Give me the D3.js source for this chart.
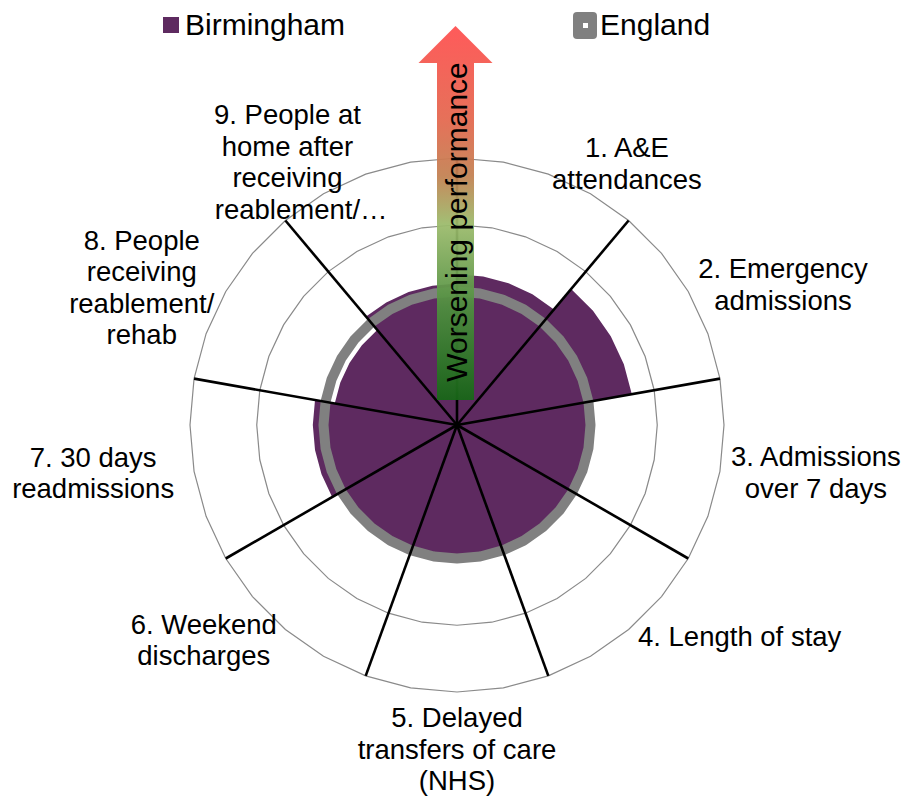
<!DOCTYPE html>
<html>
<head>
<meta charset="utf-8">
<script src="https://cdn.jsdelivr.net/npm/d3@7"></script>
<style>
body { margin: 0; background: #fff; }
svg { display: block; font-family: "Liberation Sans", Arial, sans-serif; }
</style>
</head>
<body>
<script>
// categories (one entry per sector, already wrapped the way the chart shows them)
var categories = [
  ["1. A&E", "attendances"],
  ["2. Emergency", "admissions"],
  ["3. Admissions", "over 7 days"],
  ["4. Length of stay"],
  ["5. Delayed", "transfers of care", "(NHS)"],
  ["6. Weekend", "discharges"],
  ["7. 30 days", "readmissions"],
  ["8. People", "receiving", "reablement/", "rehab"],
  ["9. People at", "home after", "receiving", "reablement/\u2026"]
];
// ratio to England average, per sector
var birmingham = [1.13, 1.33, 0.99, 0.98, 0.98, 0.99, 1.08, 0.93, 1.06];
var england = [1, 1, 1, 1, 1, 1, 1, 1, 1];
var gridTicks = [0.5, 1, 1.5, 2];
var seriesNames = ["Birmingham", "England"];
var arrowLabel = "Worsening performance";

var W = 908, H = 798;
var cx = 457, cy = 425, R = 267;
var perSector = 4; // radar points per sector (36 round the dial)
var fs = 27.5, lh = 31.5;

// label placement round the dial: [angle in degrees, distance from centre]
var labelLayout = [[33, 312], [66.7, 355], [97.5, 362], [126.8, 353], [180, 324],
                   [229.7, 332], [262.5, 367], [293.6, 344], [327.2, 313]];

var svg = d3.select("body").append("svg")
  .attr("width", W)
  .attr("height", H);

var r = d3.scaleLinear().domain([0, 2]).range([0, R]);
var ang = d3.scaleLinear().domain([0, categories.length]).range([0, 2 * Math.PI]);

// closed ring, one vertex every 1/perSector of a sector; if edges is set each
// sector also gets its closing vertex so the value steps on the spoke
function ring(values, edges) {
  var pts = [];
  values.forEach(function(v, i) {
    var n = edges ? perSector : perSector - 1;
    for (var j = 0; j <= n; j++) pts.push([ang(i + j / perSector), r(v)]);
  });
  return pts;
}

var radial = d3.lineRadial()
  .angle(function(d) { return d[0]; })
  .radius(function(d) { return d[1]; })
  .curve(d3.curveLinearClosed);

var g = svg.append("g").attr("transform", "translate(" + cx + "," + cy + ")");

// grid
g.selectAll("path.grid")
  .data(gridTicks)
  .enter().append("path")
  .attr("class", "grid")
  .attr("d", function(t) { return radial(ring(categories.map(function() { return t; }))); })
  .attr("fill", "none")
  .attr("stroke", "#8a8a8a")
  .attr("stroke-width", 1.2);

// Birmingham filled area
g.append("path")
  .attr("d", radial(ring(birmingham, true)))
  .attr("fill", "#5e2a60");

// England line
g.append("path")
  .attr("d", radial(ring(england)))
  .attr("fill", "none")
  .attr("stroke", "#808080")
  .attr("stroke-width", 10)
  .attr("stroke-linejoin", "round");

// spokes
g.selectAll("line.spoke")
  .data(d3.range(categories.length))
  .enter().append("line")
  .attr("class", "spoke")
  .attr("x1", 0).attr("y1", 0)
  .attr("x2", function(i) { return Math.sin(ang(i)) * r(2); })
  .attr("y2", function(i) { return -Math.cos(ang(i)) * r(2); })
  .attr("stroke", "#000")
  .attr("stroke-width", 2.6);

// arrow
var defs = svg.append("defs");
var grad = defs.append("linearGradient")
  .attr("id", "arrowGrad")
  .attr("gradientUnits", "userSpaceOnUse")
  .attr("x1", 0).attr("x2", 0).attr("y1", 26).attr("y2", 400);
[[0, "#ff5050"], [0.25, "#e4684f"], [0.4, "#c38152"], [0.53, "#9cbb6c"], [0.75, "#4f8f3f"], [1, "#176717"]]
  .forEach(function(s) {
    grad.append("stop").attr("offset", s[0]).attr("stop-color", s[1]);
  });

var ax = 455.5;
svg.append("path")
  .attr("d", "M" + ax + ",26 L" + (ax + 37) + ",63 L" + (ax + 18.5) + ",63 L" + (ax + 18.5) + ",400 L" +
    (ax - 18.5) + ",400 L" + (ax - 18.5) + ",63 L" + (ax - 37) + ",63 Z")
  .attr("fill", "url(#arrowGrad)")
  .attr("fill-opacity", 0.94);

svg.append("text")
  .attr("transform", "translate(" + ax + ",222) rotate(-90)")
  .attr("y", 11)
  .attr("text-anchor", "middle")
  .attr("font-size", 30)
  .attr("fill", "#000")
  .text(arrowLabel);

// category labels
categories.forEach(function(lines, i) {
  var a = labelLayout[i][0] * Math.PI / 180, d = labelLayout[i][1];
  var lx = cx + Math.sin(a) * d, ly = cy - Math.cos(a) * d;
  lines.forEach(function(txt, k) {
    var by = ly + (k - (lines.length - 1) / 2) * lh + 0.35 * fs;
    var t = svg.append("text")
      .attr("y", by)
      .attr("font-size", fs)
      .attr("fill", "#000");
    if (txt.slice(-1) === "\u2026") {
      // Excel centres the text and then appends the ellipsis
      t.attr("x", lx).attr("text-anchor", "middle").text(txt.slice(0, -1));
      var w = t.node().getComputedTextLength();
      t.attr("text-anchor", "start").attr("x", lx - w / 2);
      t.append("tspan").text("\u2026");
    } else {
      t.attr("x", lx).attr("text-anchor", "middle").text(txt);
    }
  });
});

// legend
svg.append("rect")
  .attr("x", 163).attr("y", 17).attr("width", 16).attr("height", 16)
  .attr("fill", "#5e2a60");
svg.append("text")
  .attr("x", 185).attr("y", 35)
  .attr("font-size", 30)
  .text(seriesNames[0]);

svg.append("rect")
  .attr("x", 573).attr("y", 12).attr("width", 24).attr("height", 27).attr("rx", 4)
  .attr("fill", "#808080");
svg.append("rect")
  .attr("x", 583).attr("y", 23).attr("width", 5).attr("height", 5)
  .attr("fill", "#fff");
svg.append("text")
  .attr("x", 600).attr("y", 35)
  .attr("font-size", 30)
  .text(seriesNames[1]);
</script>
</body>
</html>
